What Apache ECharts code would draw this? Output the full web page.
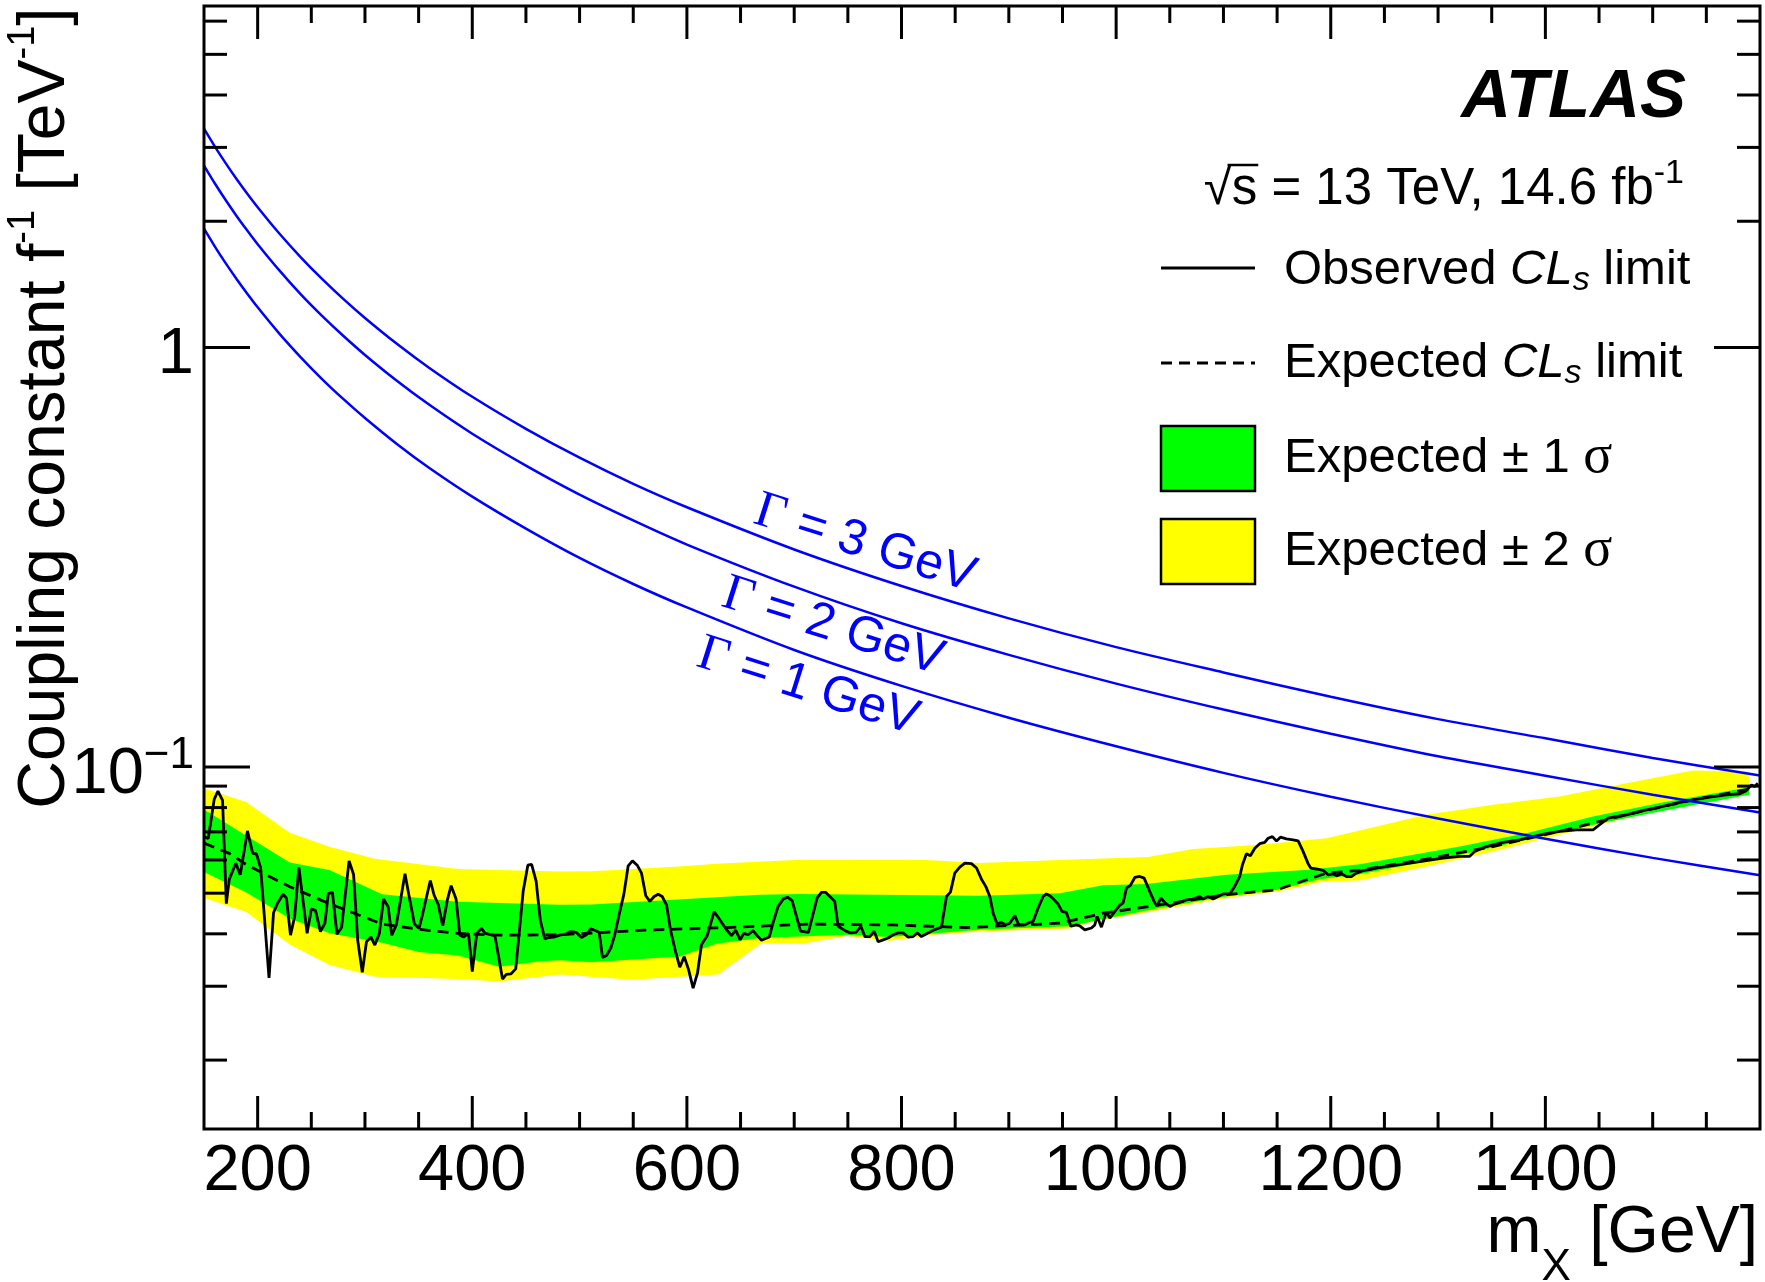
<!DOCTYPE html>
<html>
<head>
<meta charset="utf-8">
<script src="https://cdn.jsdelivr.net/npm/echarts@6/dist/echarts.min.js"></script>
<style>
html,body{margin:0;padding:0;background:#ffffff;}
#chart{width:1765px;height:1282px;}
</style>
</head>
<body>
<div id="chart"></div>
<script>
// ---------------- data ----------------
const xRange = [150, 1600];
const yRange = [0.0137, 6.52];

const xMajorTicks = [200, 400, 600, 800, 1000, 1200, 1400];
const xMinorTicks = [250, 300, 350, 450, 500, 550, 650, 700, 750, 850, 900, 950, 1050, 1100, 1150, 1250, 1300, 1350, 1450, 1500, 1550];
const xTickLabels = ['200', '400', '600', '800', '1000', '1200', '1400'];
const yMajorTicks = [0.1, 1];
const yMinorTicks = [0.02, 0.03, 0.04, 0.05, 0.06, 0.07, 0.08, 0.09, 2, 3, 4, 5, 6];
const yTickLabels = ['{a|10}{b|\u22121}', '{a|1}'];

const observedLimit = [
[150,0.0682],[154,0.0675],[159.5,0.0837],[163,0.0876],[167.3,0.0832],[170.8,0.0472],[173.6,0.0540],[179.6,0.0589],[183.8,0.0553],[190.5,0.0704],[195.4,0.0622],[198.9,0.0620],[202.8,0.0574],[210.6,0.0314],[214.8,0.0449],[218.3,0.0472],[223.6,0.0497],[226.8,0.0487],[230.6,0.0397],[234.5,0.0440],[238.4,0.0576],[246.1,0.0401],[250,0.0458],[253.9,0.0455],[258.5,0.0405],[262.7,0.0424],[265.8,0.0499],[269.7,0.0502],[273.9,0.0399],[278.2,0.0414],[285.2,0.0597],[289.4,0.0554],[293.3,0.0385],[297.5,0.0324],[301.4,0.0383],[305.6,0.0393],[309.2,0.0376],[313.4,0.0401],[317.3,0.0484],[321.5,0.0465],[325,0.0397],[329.2,0.0420],[337.3,0.0556],[340.8,0.0497],[346.1,0.0422],[350.4,0.0412],[353.2,0.0440],[360.9,0.0536],[364.4,0.0495],[368.3,0.0470],[372.5,0.0418],[376.8,0.0482],[380.3,0.0521],[384.9,0.0484],[388.4,0.0397],[391.9,0.0393],[396.5,0.0401],[400,0.0325],[404.2,0.0401],[408.5,0.0412],[412,0.0401],[421.1,0.0396],[428.2,0.0312],[431.7,0.0320],[435.9,0.0321],[440.5,0.0330],[447.5,0.0507],[451.8,0.0583],[455.3,0.0586],[459.5,0.0534],[463.4,0.0431],[467.6,0.0389],[471.1,0.0392],[476,0.0393],
[481.6,0.0397],[487.8,0.0400],[490.9,0.0405],[497.1,0.0403],[501.8,0.0392],[506.4,0.0398],[510.2,0.0411],[514.2,0.0408],[518.3,0.0403],[521.4,0.0351],[525.1,0.0355],[529.1,0.0370],[532.8,0.0398],[537.5,0.0452],[541.2,0.0496],[545.3,0.0581],[549.3,0.0597],[553.7,0.0583],[557.7,0.0558],[561.7,0.0493],[565.5,0.0478],[569.5,0.0491],[573.2,0.0497],[577,0.0491],[581,0.0469],[584.7,0.0409],[589.4,0.0363],[593.4,0.0333],[597.5,0.0353],[601.5,0.0329],[605.8,0.0297],[609.9,0.0323],[613.6,0.0377],[618.9,0.0396],[625.4,0.0452],[630.7,0.0432],[636.9,0.0409],[641.6,0.0396],[645.6,0.0408],[649.6,0.0387],[653,0.0401],[657.1,0.0398],[661.7,0.0407],[665.5,0.0396],[669.5,0.0386],[676.7,0.0393],[680.4,0.0426],[685,0.0465],[689.7,0.0484],[693.7,0.0489],[698.1,0.0480],[702.1,0.0440],[705.9,0.0406],[713.3,0.0403],[717,0.0440],[721.4,0.0487],[725.4,0.0502],[729.5,0.0502],[733.2,0.0491],[737.8,0.0478],[740.9,0.0417],[748.1,0.0406],[752.4,0.0402],[758,0.0404],[762.1,0.0417],[765.8,0.0394],[770.5,0.0394],[774.5,0.0406],[778.2,0.0383],[782.9,0.0387],[787.5,0.0391],[792.2,0.0398],[796.9,0.0402],[801.5,0.0402],[806.2,0.0393],[810.8,0.0394],[814.6,0.0402],[818.6,0.0394],[823.3,0.0400],[829.5,0.0408],[837.2,0.0415],[841.9,0.0491],[845.6,0.0503],[849.6,0.0558],[854.3,0.0577],[859,0.0590],[865.2,0.0588],[869.9,0.0574],
[874.5,0.0540],[878.5,0.0519],[882.3,0.0491],[885.4,0.0448],[889.1,0.0422],[893.1,0.0426],[896.9,0.0420],[900.9,0.0424],[905.6,0.0442],[909.3,0.0420],[914.9,0.0420],[919.5,0.0426],[922.6,0.0428],[927.3,0.0461],[932,0.0491],[935.1,0.0498],[938.2,0.0493],[942.2,0.0482],[945.9,0.0471],[949.7,0.0452],[953.7,0.0450],[957.7,0.0417],[963,0.0420],[966.1,0.0418],[970.8,0.0409],[977,0.0413],[980.1,0.0420],[982.3,0.0440],[986.3,0.0415],[991,0.0452],[994.1,0.0436],[998.7,0.0452],[1003.4,0.0468],[1006.5,0.0474],[1009.6,0.0514],[1013.3,0.0522],[1017.4,0.0545],[1022,0.0548],[1026.1,0.0543],[1031.3,0.0505],[1036,0.0474],[1038.5,0.0467],[1041.6,0.0487],[1045.3,0.0475],[1050,0.0465],[1054.6,0.0471],[1059.3,0.0475],[1065.5,0.0482],[1071.7,0.0484],[1077.9,0.0491],[1081,0.0484],[1085.7,0.0491],[1090.4,0.0484],[1095,0.0491],[1099.7,0.0498],[1105.9,0.0498],[1110.5,0.0519],[1115.2,0.0548],[1117.7,0.0584],[1121.4,0.0621],[1125.1,0.0614],[1129.2,0.0640],[1133.8,0.0656],[1138.5,0.0661],[1141.6,0.0676],[1145.6,0.0682],[1149.4,0.0666],[1153.1,0.0680],[1158.7,0.0674],[1164.9,0.0670],[1169.6,0.0666],[1174.2,0.0629],[1178.9,0.0588],[1181.4,0.0574],[1186.6,0.0571],[1192.9,0.0567],[1197.5,0.0553],[1202.2,0.0556],[1205.3,0.0550],[1210,0.0556],[1214.6,0.0548],[1219.3,0.0548],[1223.9,0.0558],[1230.1,0.0566],[1236.3,0.0569],[1242.5,0.0574],
[1273.6,0.0590],[1304.6,0.0606],[1320.2,0.0612],[1329.5,0.0612],[1334.2,0.0629],[1345,0.0646],[1360.6,0.0661],[1376.1,0.0670],[1388.5,0.0682],[1400.9,0.0693],[1413.4,0.0702],[1428.9,0.0708],[1444.4,0.0708],[1450.6,0.0728],[1458.4,0.0755],[1475.5,0.0769],[1491,0.0787],[1506.5,0.0802],[1522.1,0.0820],[1537.6,0.0835],[1553.1,0.0847],[1568.7,0.0858],[1581.1,0.0863],[1587.3,0.0878],[1592,0.0906],[1595,0.0898],[1598,0.0914]
];

const expectedLimit = [
[150,0.0658],[173.6,0.0622],[189.4,0.0585],[229.9,0.0518],[266.9,0.0472],[316,0.0422],[350,0.0410],[386.6,0.0401],[425,0.0397],[481.6,0.0398],[559.3,0.0408],[636.9,0.0414],[714.5,0.0422],[792.2,0.0420],[860,0.0414],[947.5,0.0424],[987.9,0.0448],[1040.7,0.0469],[1102.8,0.0496],[1149.4,0.0509],[1196,0.0558],[1227,0.0567],[1289.1,0.0603],[1351.2,0.0646],[1413.4,0.0702],[1475.5,0.0769],[1537.6,0.0835],[1590,0.0885]
];

const band2Upper = [
[150,0.0890],[189.4,0.0825],[229.9,0.0697],[266.9,0.0645],[309.2,0.0604],[386.6,0.0571],[481.6,0.0563],[511,0.0564],[593,0.0579],[627.6,0.0588],[705,0.0601],[823,0.0600],[873,0.0590],[947.5,0.0600],[1029.8,0.0610],[1071.7,0.0637],[1133.8,0.0652],[1196,0.0676],[1227,0.0705],[1289.1,0.0769],[1351.2,0.0812],[1413.4,0.0850],[1475.5,0.0914],[1537.6,0.0980],[1590,0.0975]
];
const band2Lower = [
[150,0.0487],[189.4,0.0451],[229.9,0.0377],[266.9,0.0337],[309.2,0.0316],[386.6,0.0312],[425,0.0308],[481.6,0.0320],[548.4,0.0311],[629,0.0320],[669.5,0.0380],[708,0.0379],[748.7,0.0395],[789,0.0385],[829.5,0.0398],[873,0.0405],[956.8,0.0412],[978.5,0.0428],[1040.7,0.0456],[1102.8,0.0487],[1152.5,0.0505],[1192.9,0.0533],[1227,0.0536],[1289.1,0.0579],[1351.2,0.0629],[1413.4,0.0689],[1475.5,0.0755],[1537.6,0.0820],[1590,0.0866]
];
const band1Upper = [
[150,0.0792],[229.9,0.0592],[266.9,0.0568],[316,0.0497],[386.6,0.0477],[481.6,0.0469],[511,0.0470],[668,0.0496],[705,0.0498],[873,0.0493],[947.5,0.0500],[987.9,0.0522],[1028.2,0.0526],[1102.8,0.0553],[1180.4,0.0569],[1227,0.0586],[1320.2,0.0646],[1382.3,0.0695],[1444.4,0.0762],[1506.5,0.0820],[1590,0.0895]
];
const band1Lower = [
[150,0.0562],[189.4,0.0502],[229.9,0.0435],[266.9,0.0401],[316,0.0381],[350,0.0362],[386.6,0.0355],[425,0.0334],[464,0.0344],[481.6,0.0346],[511,0.0342],[593.4,0.0353],[627.6,0.0379],[668,0.0391],[748.7,0.0398],[789,0.0393],[873,0.0409],[956.8,0.0417],[984.8,0.0432],[1040.7,0.0461],[1102.8,0.0491],[1149.4,0.0509],[1189.7,0.0540],[1227,0.0555],[1320.2,0.0617],[1382.3,0.0670],[1444.4,0.0728],[1506.5,0.0783],[1590,0.0858]
];

const widthMass = [150,160,170,180,190,200,220,240,260,280,300,330,360,400,450,500,550,600,700,800,900,1000,1100,1200,1300,1400,1500,1600];
const width1GeV = [1.92,1.743,1.591,1.461,1.347,1.247,1.081,0.949,0.841,0.753,0.679,0.588,0.516,0.441,0.370,0.315,0.273,0.240,0.190,0.156,0.131,0.112,0.0968,0.0849,0.0753,0.0674,0.0607,0.0552];
const width2GeV = [2.715,2.464,2.250,2.065,1.905,1.763,1.529,1.341,1.190,1.065,0.960,0.832,0.730,0.623,0.523,0.446,0.387,0.339,0.269,0.220,0.185,0.158,0.137,0.120,0.106,0.0953,0.0858,0.0779];
const width3GeV = [3.325,3.018,2.756,2.529,2.332,2.160,1.872,1.643,1.457,1.304,1.176,1.019,0.894,0.763,0.640,0.546,0.473,0.416,0.330,0.270,0.226,0.193,0.168,0.147,0.130,0.117,0.105,0.0954];

// ---------------- rendering ----------------
const FF = '"Liberation Sans", Arial, Helvetica, sans-serif';
const SERIF = '"Liberation Serif", "Times New Roman", serif';
const chart = echarts.init(document.getElementById('chart'), null, {renderer: 'canvas'});

const mctx = document.createElement('canvas').getContext('2d');
function textWidth(str, size, extra) {
  mctx.font = (extra ? extra + ' ' : '') + size + 'px ' + FF;
  return mctx.measureText(str).width;
}

function zip(xs, ys) { return xs.map((x, i) => [x, ys[i]]); }

function bandRenderer(upper, lower, color) {
  return function (params, api) {
    const pts = upper.map(p => api.coord(p)).concat(lower.slice().reverse().map(p => api.coord(p)));
    return {type: 'polygon', shape: {points: pts}, style: {fill: color, stroke: null}};
  };
}

const TFS = 65;
function frameRenderer(params, api) {
  const cs = params.coordSys;
  const L = cs.x, R = cs.x + cs.width, T = cs.y, B = cs.y + cs.height;
  const kids = [];
  const seg = (x1, y1, x2, y2) => kids.push({type: 'line', shape: {x1, y1, x2, y2}, style: {stroke: '#000', lineWidth: 3}});
  xMajorTicks.forEach(v => { const x = api.coord([v, 1])[0]; seg(x, B, x, B - 33); seg(x, T, x, T + 33); });
  xMinorTicks.forEach(v => { const x = api.coord([v, 1])[0]; seg(x, B, x, B - 17); seg(x, T, x, T + 17); });
  yMajorTicks.forEach(v => { const y = api.coord([xRange[0], v])[1]; seg(L, y, L + 46, y); seg(R, y, R - 46, y); });
  yMinorTicks.forEach(v => { const y = api.coord([xRange[0], v])[1]; seg(L, y, L + 23, y); seg(R, y, R - 23, y); });
  kids.push({type: 'rect', shape: {x: L, y: T, width: R - L, height: B - T}, style: {fill: 'none', stroke: '#000', lineWidth: 3}});
  xMajorTicks.forEach((v, i) => {
    const x = api.coord([v, 1])[0];
    kids.push({type: 'text', x: x, y: B + 43, style: {text: xTickLabels[i], fontSize: TFS, fontFamily: FF, fill: '#000', align: 'center', verticalAlign: 'middle'}});
  });
  yMajorTicks.forEach((v, i) => {
    const y = api.coord([xRange[0], v])[1];
    kids.push({type: 'text', x: L - 10, y: y + 8, style: {
      text: yTickLabels[i], align: 'right', verticalAlign: 'middle',
      rich: {
        a: {fontSize: TFS, fontFamily: FF, lineHeight: 82, fill: '#000', color: '#000'},
        b: {fontSize: 44, fontFamily: FF, lineHeight: 44, verticalAlign: 'top', fill: '#000', color: '#000'}
      }}});
  });
  return {type: 'group', children: kids};
}

// legend geometry
const LFS = 49;
const SFS = 51;
const sqrtMain = '\u221As = 13 TeV, 14.6 fb';
const sqrtRight = 1684;
const sqrtLeft = sqrtRight - textWidth(sqrtMain, SFS) - textWidth('-1', 34);
const radW = textWidth('\u221A', SFS);
const sW = textWidth('s', SFS);

const legendRich = {
  t: {fontSize: LFS, fontFamily: FF, lineHeight: 56, fill: '#000', color: '#000'},
  i: {fontSize: LFS, fontFamily: FF, fontStyle: 'italic', lineHeight: 56, fill: '#000', color: '#000'},
  sub: {fontSize: 34, fontFamily: FF, fontStyle: 'italic', lineHeight: 34, verticalAlign: 'bottom', fill: '#000', color: '#000'},
  g: {fontSize: 54, fontFamily: SERIF, lineHeight: 56, fill: '#000', color: '#000'}
};
const blueRich = {
  g: {fontSize: 52, fontFamily: SERIF, lineHeight: 56, fill: '#0000ff', color: '#0000ff'},
  t: {fontSize: 50, fontFamily: FF, lineHeight: 56, fill: '#0000ff', color: '#0000ff'}
};
const rot = -17.5 * Math.PI / 180;

const option = {
  animation: false,
  backgroundColor: '#ffffff',
  grid: {left: 204, right: 5, top: 6, bottom: 153, show: false},
  xAxis: {type: 'value', min: xRange[0], max: xRange[1], show: false, splitLine: {show: false}},
  yAxis: {type: 'log', logBase: 10, min: yRange[0], max: yRange[1], show: false, splitLine: {show: false}},
  series: [
    {type: 'custom', coordinateSystem: 'cartesian2d', data: [[150, 1]], z: 1, silent: true,
     renderItem: bandRenderer(band2Upper, band2Lower, '#ffff00')},
    {type: 'custom', coordinateSystem: 'cartesian2d', data: [[150, 1]], z: 1, silent: true,
     renderItem: bandRenderer(band1Upper, band1Lower, '#00ff00')},
    {type: 'line', data: expectedLimit, showSymbol: false, z: 3, silent: true,
     lineStyle: {color: '#000', width: 2.8, type: [11, 7]}},
    {type: 'line', data: observedLimit, showSymbol: false, z: 3, silent: true,
     lineStyle: {color: '#000', width: 2.8}},
    {type: 'line', data: zip(widthMass, width1GeV), showSymbol: false, smooth: 0.3, z: 4, silent: true,
     lineStyle: {color: '#0000ff', width: 2.5}},
    {type: 'line', data: zip(widthMass, width2GeV), showSymbol: false, smooth: 0.3, z: 4, silent: true,
     lineStyle: {color: '#0000ff', width: 2.5}},
    {type: 'line', data: zip(widthMass, width3GeV), showSymbol: false, smooth: 0.3, z: 4, silent: true,
     lineStyle: {color: '#0000ff', width: 2.5}},
    {type: 'custom', coordinateSystem: 'cartesian2d', data: [[150, 1]], z: 10, silent: true, clip: false,
     renderItem: frameRenderer}
  ],
  graphic: [
    // y axis title
    {type: 'text', x: 46, y: 408, rotation: Math.PI / 2, z: 20, style: {
      text: '{t|Coupling constant f}{s|-1}{t| [TeV}{s|-1}{t|]}', align: 'center', verticalAlign: 'middle',
      rich: {
        t: {fontSize: 66, fontFamily: FF, lineHeight: 82, fill: '#000', color: '#000'},
        s: {fontSize: 38, fontFamily: FF, lineHeight: 38, verticalAlign: 'top', fill: '#000', color: '#000'}
      }}},
    // x axis title
    {type: 'text', x: 1758, y: 1234, z: 20, style: {
      text: '{t|m}{s|X}{t| [GeV]}', align: 'right', verticalAlign: 'middle',
      rich: {
        t: {fontSize: 66, fontFamily: FF, lineHeight: 112, fill: '#000', color: '#000'},
        s: {fontSize: 44, fontFamily: FF, lineHeight: 44, verticalAlign: 'bottom', fill: '#000', color: '#000'}
      }}},
    // ATLAS label
    {type: 'text', x: 1686, y: 98, z: 20, style: {text: 'ATLAS', fontSize: 69, fontFamily: FF, fontWeight: 'bold', fontStyle: 'italic', fill: '#000', align: 'right', verticalAlign: 'middle'}},
    // sqrt(s) line
    {type: 'text', x: sqrtRight, y: 190, z: 20, style: {
      text: '{t|' + sqrtMain + '}{s|-1}', align: 'right', verticalAlign: 'middle',
      rich: {
        t: {fontSize: SFS, fontFamily: FF, lineHeight: 66, fill: '#000', color: '#000'},
        s: {fontSize: 34, fontFamily: FF, lineHeight: 34, verticalAlign: 'top', fill: '#000', color: '#000'}
      }}},
    {type: 'line', z: 20, shape: {x1: sqrtLeft + radW * 0.85, y1: 165, x2: sqrtLeft + radW + sW + 1, y2: 165}, style: {stroke: '#000', lineWidth: 2.5}},
    // legend entries
    {type: 'line', z: 20, shape: {x1: 1161, y1: 268, x2: 1255, y2: 268}, style: {stroke: '#000', lineWidth: 2.8}},
    {type: 'text', x: 1284, y: 270, z: 20, style: {text: '{t|Observed }{i|CL}{sub|s}{t| limit}', align: 'left', verticalAlign: 'middle', rich: legendRich}},
    {type: 'line', z: 20, shape: {x1: 1161, y1: 363, x2: 1255, y2: 363}, style: {stroke: '#000', lineWidth: 2.8, lineDash: [11, 7]}},
    {type: 'text', x: 1284, y: 363, z: 20, style: {text: '{t|Expected }{i|CL}{sub|s}{t| limit}', align: 'left', verticalAlign: 'middle', rich: legendRich}},
    {type: 'rect', z: 20, shape: {x: 1161, y: 426, width: 94, height: 65}, style: {fill: '#00ff00', stroke: '#000', lineWidth: 2.5}},
    {type: 'text', x: 1284, y: 458, z: 20, style: {text: '{t|Expected \u00B1 1 }{g|\u03C3}', align: 'left', verticalAlign: 'middle', rich: legendRich}},
    {type: 'rect', z: 20, shape: {x: 1161, y: 519, width: 94, height: 65}, style: {fill: '#ffff00', stroke: '#000', lineWidth: 2.5}},
    {type: 'text', x: 1284, y: 551, z: 20, style: {text: '{t|Expected \u00B1 2 }{g|\u03C3}', align: 'left', verticalAlign: 'middle', rich: legendRich}},
    // width labels
    {type: 'text', x: 865, y: 544, rotation: rot, z: 20, style: {text: '{g|\u0393}{t| = 3 GeV}', align: 'center', verticalAlign: 'middle', rich: blueRich}},
    {type: 'text', x: 833, y: 627, rotation: rot, z: 20, style: {text: '{g|\u0393}{t| = 2 GeV}', align: 'center', verticalAlign: 'middle', rich: blueRich}},
    {type: 'text', x: 808, y: 687, rotation: rot, z: 20, style: {text: '{g|\u0393}{t| = 1 GeV}', align: 'center', verticalAlign: 'middle', rich: blueRich}}
  ]
};
chart.setOption(option);
</script>
</body>
</html>
